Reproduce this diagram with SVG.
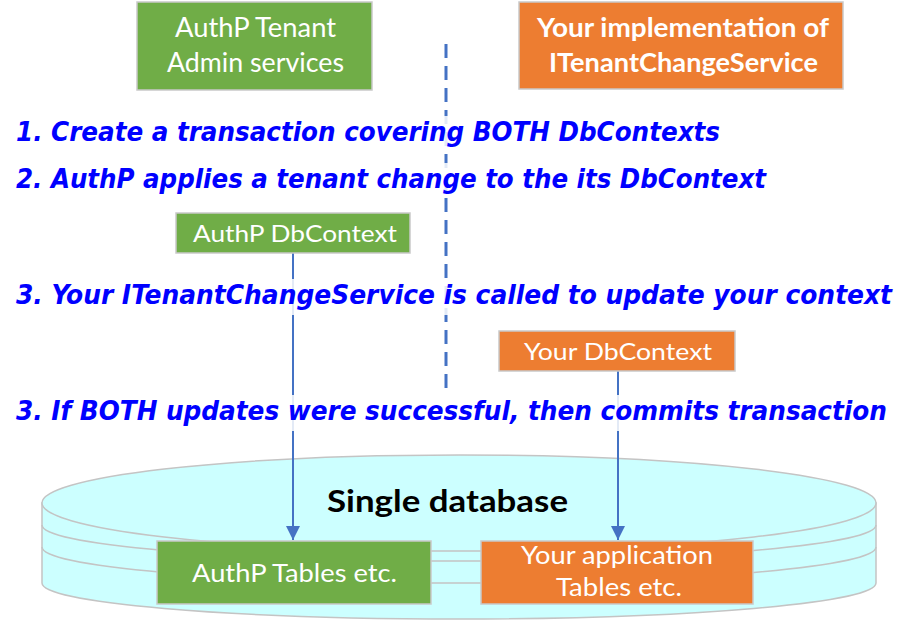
<svg xmlns="http://www.w3.org/2000/svg" width="911" height="622" viewBox="0 0 911 622">
<defs>
<style>
.bg{fill:#ffffff}
.green{fill:#70AD47;stroke:#C9C9C9;stroke-width:1.5}
.orange{fill:#ED7D31;stroke:#C9C9C9;stroke-width:1.5}
.lbl{font-family:Lato,"Open Sans",sans-serif;fill:#ffffff;text-anchor:middle}
.bold{font-weight:bold}
.step{font-family:"DejaVu Sans",sans-serif;font-stretch:condensed;font-weight:bold;font-style:italic;font-size:26px;fill:#0000FF}
.band{fill:#ffffff;fill-opacity:0.85}
.db{fill:#CCFFFF;stroke:#C4C4C4;stroke-width:1.5}
.arc{fill:none;stroke:#C4C4C4;stroke-width:1.5}
.conn{stroke:#4472C4;stroke-width:2;fill:none}
.dash{stroke:#4472C4;stroke-width:3;fill:none;stroke-dasharray:14 8}
</style>
<marker id="arrow" viewBox="0 0 14 14" refX="14" refY="7" markerWidth="14" markerHeight="14" markerUnits="userSpaceOnUse" orient="auto">
<path d="M0,0 L14,7 L0,14 Z" fill="#4472C4"/>
</marker>
</defs>
<rect class="bg" x="0" y="0" width="911" height="622"/>

<g id="database">
<path class="db" d="M42,503 L42,583 A417,36 0 0 0 876,583 L876,503 Z"/>
<ellipse class="db" cx="459" cy="503" rx="417" ry="48"/>
<path class="arc" d="M42,525 A417,36 0 0 0 876,525"/>
<path class="arc" d="M42,547 A417,36 0 0 0 876,547"/>
<text class="lbl bold" x="447.5" y="512" font-size="31" style="fill:#000000" textLength="241" lengthAdjust="spacingAndGlyphs">Single database</text>
</g>

<g id="connectors">
<line class="dash" x1="446" y1="44" x2="446" y2="388"/>
<line class="conn" x1="293" y1="253" x2="293" y2="540" marker-end="url(#arrow)"/>
<line class="conn" x1="618" y1="371" x2="618" y2="540" marker-end="url(#arrow)"/>
</g>

<g id="steps">
<rect class="band" x="8" y="116" width="722" height="34"/>
<text class="step" x="16" y="141" textLength="704" lengthAdjust="spacingAndGlyphs">1. Create a transaction covering BOTH DbContexts</text>
<rect class="band" x="8" y="163" width="768" height="34"/>
<text class="step" x="16" y="188" textLength="750" lengthAdjust="spacingAndGlyphs">2. AuthP applies a tenant change to the its DbContext</text>
<rect class="band" x="8" y="279" width="895" height="36"/>
<text class="step" x="16" y="304" textLength="876" lengthAdjust="spacingAndGlyphs">3. Your ITenantChangeService is called to update your context</text>
<rect class="band" x="8" y="395" width="895" height="36"/>
<text class="step" x="16" y="420" textLength="871" lengthAdjust="spacingAndGlyphs">3. If BOTH updates were successful, then commits transaction</text>
</g>

<g id="authp-admin">
<rect class="green" x="137" y="2" width="235" height="88"/>
<text class="lbl" x="255.5" y="37" font-size="26" textLength="161" lengthAdjust="spacingAndGlyphs">AuthP Tenant</text>
<text class="lbl" x="255.5" y="72" font-size="26" textLength="177" lengthAdjust="spacingAndGlyphs">Admin services</text>
</g>

<g id="your-impl">
<rect class="orange" x="519" y="2" width="324" height="87"/>
<text class="lbl bold" x="683" y="37" font-size="26" textLength="292" lengthAdjust="spacingAndGlyphs">Your implementation of</text>
<text class="lbl bold" x="683.5" y="72" font-size="26" textLength="269" lengthAdjust="spacingAndGlyphs">ITenantChangeService</text>
</g>

<g id="authp-dbcontext">
<rect class="green" x="176" y="213" width="234" height="40"/>
<text class="lbl" x="295" y="242" font-size="23" textLength="204" lengthAdjust="spacingAndGlyphs">AuthP DbContext</text>
</g>

<g id="your-dbcontext">
<rect class="orange" x="499" y="331" width="236" height="40"/>
<text class="lbl" x="618" y="360" font-size="23" textLength="188" lengthAdjust="spacingAndGlyphs">Your DbContext</text>
</g>

<g id="authp-tables">
<rect class="green" x="157" y="541" width="274" height="63"/>
<text class="lbl" x="294.5" y="582" font-size="25" textLength="205" lengthAdjust="spacingAndGlyphs">AuthP Tables etc.</text>
</g>

<g id="your-tables">
<rect class="orange" x="481" y="541" width="272" height="63"/>
<text class="lbl" x="617" y="564" font-size="25" textLength="192" lengthAdjust="spacingAndGlyphs">Your application</text>
<text class="lbl" x="619" y="596" font-size="25" textLength="126" lengthAdjust="spacingAndGlyphs">Tables etc.</text>
</g>
</svg>
